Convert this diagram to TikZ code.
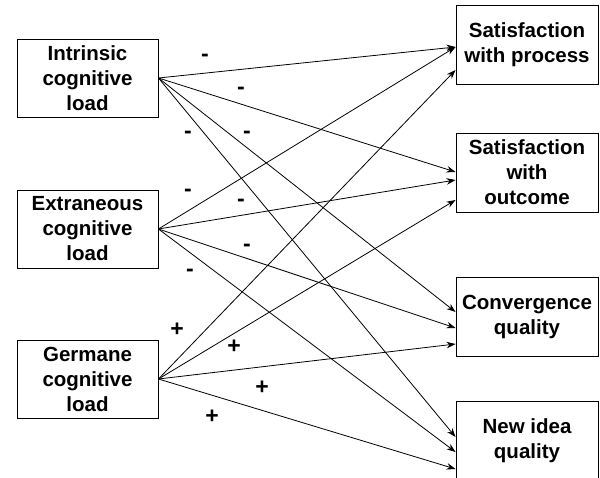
\documentclass[tikz,border=0pt]{standalone}
\usepackage{fontspec}
\setmainfont{Liberation Sans}
\usetikzlibrary{arrows.meta}
\begin{document}
\begin{tikzpicture}[x=1pt,y=-1pt,
  box/.style={draw,line width=0.9pt,align=center,inner sep=0pt,font=\fontsize{20.5}{25}\selectfont\bfseries},
  lbox/.style={box,minimum width=141pt,minimum height=78pt},
  rbox/.style={box,minimum width=142pt,minimum height=79pt},
  path/.style={line width=0.8pt,-{Stealth[length=9pt,width=6.5pt]}},
  sgn/.style={font=\fontsize{23}{24}\selectfont\bfseries,inner sep=0pt}]
\useasboundingbox (0,0) rectangle (600,478);
\node[lbox] (int) at (87.5,78) {Intrinsic\\cognitive\\load};
\node[lbox] (ext) at (87.5,229) {Extraneous\\cognitive\\load};
\node[lbox] (ger) at (87.5,379) {Germane\\cognitive\\load};
\node[rbox] (sp) at (527,44.5) {Satisfaction\\with process};
\node[rbox] (so) at (527,172.5) {Satisfaction\\with\\outcome};
\node[rbox] (cq) at (527,317) {Convergence\\quality};
\node[rbox] (ni) at (527,441) {New idea\\quality};
% intrinsic
\draw[path] (int.east) -- ([yshift=-2.5pt]sp.west);
\draw[path] (int.east) -- ([yshift=0.5pt]so.west);
\draw[path] (int.east) -- ([yshift=5pt]cq.west);
\draw[path] (int.east) -- ([yshift=4pt]ni.west);
% extraneous
\draw[path] (ext.east) -- ([yshift=-2.5pt]sp.west);
\draw[path] (ext.east) -- ([yshift=-7.5pt]so.west);
\draw[path] (ext.east) -- ([yshift=-11pt]cq.west);
\draw[path] (ext.east) -- ([yshift=-11pt]ni.west);
% germane
\draw[path] (ger.east) -- ([yshift=-25.5pt]sp.west);
\draw[path] (ger.east) -- ([yshift=-27.5pt]so.west);
\draw[path] (ger.east) -- ([yshift=-27pt]cq.west);
\draw[path] (ger.east) -- ([yshift=-28pt]ni.west);
% signs
\node[sgn] (m1) at (205,58) {-};
\node[sgn] (m2) at (241,91) {-};
\node[sgn] (m3) at (188,135) {-};
\node[sgn] (m4) at (247,135) {-};
\node[sgn] (m5) at (188,193) {-};
\node[sgn] (m6) at (241,203) {-};
\node[sgn] (m7) at (247,248) {-};
\node[sgn] (m8) at (190,273) {-};
\node[sgn] (p1) at (177,330) {+};
\node[sgn] (p2) at (234,347) {+};
\node[sgn] (p3) at (262,388) {+};
\node[sgn] (p4) at (212,417) {+};
\end{tikzpicture}
\end{document}
